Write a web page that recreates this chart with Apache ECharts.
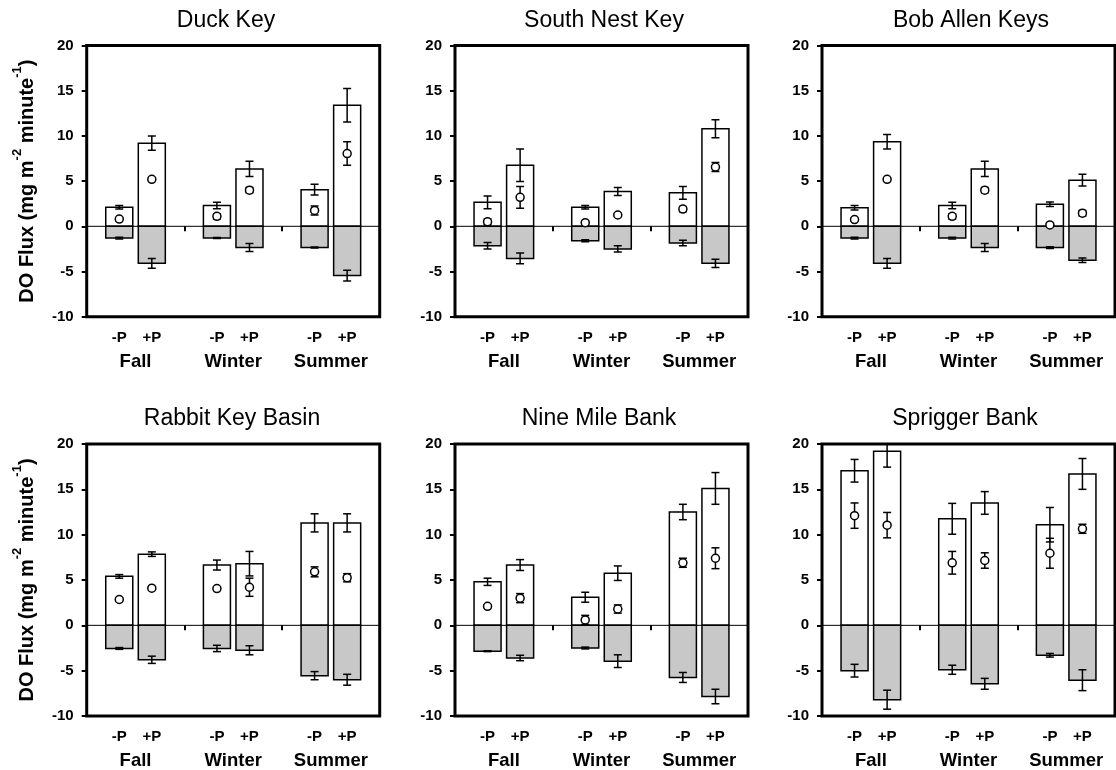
<!DOCTYPE html>
<html>
<head>
<meta charset="utf-8">
<title>DO Flux by site</title>
<script src="https://cdn.jsdelivr.net/npm/echarts@6/dist/echarts.min.js"></script>
<style>
  html, body { margin: 0; padding: 0; background: #fff; }
  #chart { width: 1116px; height: 770px; }
</style>
</head>
<body>
<div id="chart"></div>
<script>
// Panels, seasons and treatments
const sites = ['Duck Key', 'South Nest Key', 'Bob Allen Keys', 'Rabbit Key Basin', 'Nine Mile Bank', 'Sprigger Bank'];
const seasons = ['Fall', 'Winter', 'Summer'];
const treatments = ['-P', '+P'];
const yTicks = [-10, -5, 0, 5, 10, 15, 20];

// One row per site; columns: Fall -P, Fall +P, Winter -P, Winter +P, Summer -P, Summer +P
const production = [
  [2.1, 9.2, 2.3, 6.35, 4.05, 13.4],
  [2.65, 6.75, 2.1, 3.85, 3.7, 10.8],
  [2.05, 9.35, 2.3, 6.35, 2.45, 5.1],
  [5.4, 7.85, 6.65, 6.8, 11.3, 11.3],
  [4.8, 6.65, 3.1, 5.75, 12.5, 15.1],
  [17.05, 19.2, 11.75, 13.5, 11.1, 16.7]
];
const productionSE = [
  [0.2, 0.8, 0.35, 0.85, 0.6, 1.85],
  [0.7, 1.8, 0.2, 0.45, 0.7, 1.0],
  [0.25, 0.8, 0.35, 0.85, 0.25, 0.65],
  [0.2, 0.25, 0.55, 1.35, 1.0, 1.0],
  [0.4, 0.6, 0.55, 0.8, 0.85, 1.75],
  [1.25, 1.75, 1.7, 1.25, 1.9, 1.7]
];
const respiration = [
  [-1.3, -4.1, -1.3, -2.35, -2.35, -5.45],
  [-2.15, -3.55, -1.6, -2.5, -1.85, -4.1],
  [-1.3, -4.1, -1.3, -2.35, -2.35, -3.75],
  [-2.55, -3.8, -2.55, -2.75, -5.55, -6.0],
  [-2.85, -3.6, -2.5, -3.95, -5.75, -7.85],
  [-5.0, -8.2, -4.9, -6.45, -3.3, -6.05]
];
const respirationSE = [
  [0.1, 0.55, 0.05, 0.45, 0.05, 0.6],
  [0.35, 0.6, 0.1, 0.35, 0.3, 0.45],
  [0.1, 0.55, 0.1, 0.45, 0.1, 0.25],
  [0.1, 0.4, 0.35, 0.5, 0.45, 0.6],
  [0.05, 0.3, 0.1, 0.7, 0.55, 0.8],
  [0.7, 1.05, 0.5, 0.6, 0.2, 1.15]
];
const netFlux = [
  [0.8, 5.2, 1.1, 4.0, 1.75, 8.05],
  [0.5, 3.2, 0.4, 1.25, 1.9, 6.55],
  [0.75, 5.2, 1.1, 4.0, 0.15, 1.45],
  [2.85, 4.1, 4.05, 4.2, 5.9, 5.25],
  [2.1, 3.0, 0.6, 1.8, 6.9, 7.4],
  [12.1, 11.05, 6.9, 7.15, 7.95, 10.65]
];
const netFluxSE = [
  [0.15, 0.15, 0.3, 0.3, 0.5, 1.3],
  [0.3, 1.2, 0.15, 0.2, 0.3, 0.5],
  [0.15, 0.15, 0.3, 0.3, 0.1, 0.3],
  [0.2, 0.15, 0.15, 1.0, 0.55, 0.45],
  [0.15, 0.5, 0.5, 0.45, 0.5, 1.15],
  [1.4, 1.4, 1.25, 0.85, 1.65, 0.5]
];

const FONT = '"Liberation Sans", Arial, Helvetica, sans-serif';
const BAR_HALF = 0.415;   // half bar width, in slot units
const CAP = 4;            // error bar cap half width, px
const colLeft = [86.7, 455, 822];
const rowTop = [45.5, 444];
const plotW = 293;
const plotH = [271.2, 272];
const titleX = [226, 604, 971, 232, 599, 965];
const titleY = [9, 407];

// each season takes three slots: -P, +P, gap
const slotOf = i => Math.floor(i / 2) * 3 + (i % 2) + 1;
const slotCount = seasons.length * 3;
const tickSlots = [];
for (let k = 1; k < slotCount; k++) tickSlots.push(k);
const labelSlots = production[0].map((_, i) => slotOf(i));
const seasonSlots = seasons.map((_, k) => k * 3 + 1.5);

function errorBar(cx, yLo, yHi, lw) {
  const style = { stroke: '#000', lineWidth: lw };
  return [
    { type: 'line', shape: { x1: cx, y1: yLo, x2: cx, y2: yHi }, style },
    { type: 'line', shape: { x1: cx - CAP, y1: yLo, x2: cx + CAP, y2: yLo }, style },
    { type: 'line', shape: { x1: cx - CAP, y1: yHi, x2: cx + CAP, y2: yHi }, style }
  ];
}

function renderFlux(params, api) {
  const x = api.value(0);
  const prod = api.value(1), prodSE = api.value(2);
  const resp = api.value(3), respSE = api.value(4);
  const net = api.value(5), netSE = api.value(6);
  const left = api.coord([x - BAR_HALF, 0]);
  const right = api.coord([x + BAR_HALF, 0]);
  const cx = api.coord([x, 0])[0];
  const y0 = left[1];
  const yP = api.coord([x, prod])[1];
  const yR = api.coord([x, resp])[1];
  const children = [
    { type: 'rect', shape: { x: left[0], y: yP, width: right[0] - left[0], height: y0 - yP },
      style: { fill: '#fff', stroke: '#000', lineWidth: 1.5 } },
    { type: 'rect', shape: { x: left[0], y: y0, width: right[0] - left[0], height: yR - y0 },
      style: { fill: '#c8c8c8', stroke: '#000', lineWidth: 1.5 } }
  ];
  children.push(...errorBar(cx, api.coord([x, prod - prodSE])[1], api.coord([x, prod + prodSE])[1], 1.5));
  children.push(...errorBar(cx, api.coord([x, resp - respSE])[1], api.coord([x, resp + respSE])[1], 1.5));
  children.push(...errorBar(cx, api.coord([x, net - netSE])[1], api.coord([x, net + netSE])[1], 1.5));
  const cy = api.coord([x, net])[1];
  children.push({ type: 'circle', shape: { cx, cy, r: 4 },
    style: { fill: '#fff', stroke: '#000', lineWidth: 1.5 } });
  return { type: 'group', children };
}

const grid = [], xAxis = [], yAxis = [], series = [], title = [];

sites.forEach((name, s) => {
  const row = Math.floor(s / 3), col = s % 3;
  grid.push({
    left: colLeft[col], top: rowTop[row], width: plotW, height: plotH[row],
    show: true, borderColor: '#000', borderWidth: 3, backgroundColor: 'rgba(0,0,0,0)',
    containLabel: false, outerBoundsMode: 'none'
  });
  title.push({
    text: name, left: titleX[s], top: titleY[row], textAlign: 'center', padding: 0,
    textStyle: { fontFamily: FONT, fontSize: 23, fontWeight: 'normal', color: '#000' }
  });

  // treatment axis (-P / +P)
  xAxis.push({
    gridIndex: s, type: 'value', min: 0, max: slotCount, interval: 1, position: 'bottom',
    axisLine: { show: false },
    axisTick: { show: true, customValues: tickSlots, length: 5, lineStyle: { color: '#000', width: 2 } },
    axisLabel: {
      customValues: labelSlots, margin: 13.5,
      formatter: v => treatments[(Math.round(v) - 1) % 3],
      fontFamily: FONT, fontSize: 15, fontWeight: 'bold', color: '#000'
    },
    splitLine: { show: false }
  });
  // season axis
  xAxis.push({
    gridIndex: s, type: 'value', min: 0, max: slotCount, interval: 0.5, position: 'bottom',
    axisLine: { show: false }, axisTick: { show: false },
    axisLabel: {
      customValues: seasonSlots, margin: 35.5,
      formatter: v => seasons[Math.floor(v / 3)],
      fontFamily: FONT, fontSize: 18.5, fontWeight: 'bold', color: '#000'
    },
    splitLine: { show: false }
  });

  const yAx = {
    gridIndex: s, type: 'value', min: yTicks[0], max: yTicks[yTicks.length - 1],
    interval: yTicks[1] - yTicks[0],
    axisLine: { show: false },
    axisTick: { show: true, length: 5, lineStyle: { color: '#000', width: 2 } },
    axisLabel: { margin: 13, fontFamily: FONT, fontSize: 15, fontWeight: 'bold', color: '#000' },
    splitLine: { show: false }
  };
  if (col === 0) {
    yAx.name = '{m|DO Flux (mg m}{s|-2}{m| minute}{s|-1}{m|)}';
    yAx.nameLocation = 'middle';
    yAx.nameGap = 49;
    yAx.nameTextStyle = {
      rich: {
        m: { fontFamily: FONT, fontSize: 20, fontWeight: 'bold', color: '#000', lineHeight: 27, verticalAlign: 'bottom' },
        s: { fontFamily: FONT, fontSize: 13, fontWeight: 'bold', color: '#000', verticalAlign: 'top' }
      }
    };
  }
  yAxis.push(yAx);

  series.push({
    type: 'line', xAxisIndex: 2 * s, yAxisIndex: s, z: 1,
    data: [[0, 0], [slotCount, 0]], symbol: 'none', silent: true,
    lineStyle: { color: '#000', width: 1 }
  });
  series.push({
    type: 'custom', xAxisIndex: 2 * s, yAxisIndex: s, z: 2, clip: true,
    renderItem: renderFlux,
    data: production[s].map((p, i) => [
      slotOf(i), p, productionSE[s][i], respiration[s][i], respirationSE[s][i], netFlux[s][i], netFluxSE[s][i]
    ])
  });
});

const chart = echarts.init(document.getElementById('chart'));
chart.setOption({
  animation: false,
  backgroundColor: '#fff',
  title, grid, xAxis, yAxis, series
});
</script>
</body>
</html>
